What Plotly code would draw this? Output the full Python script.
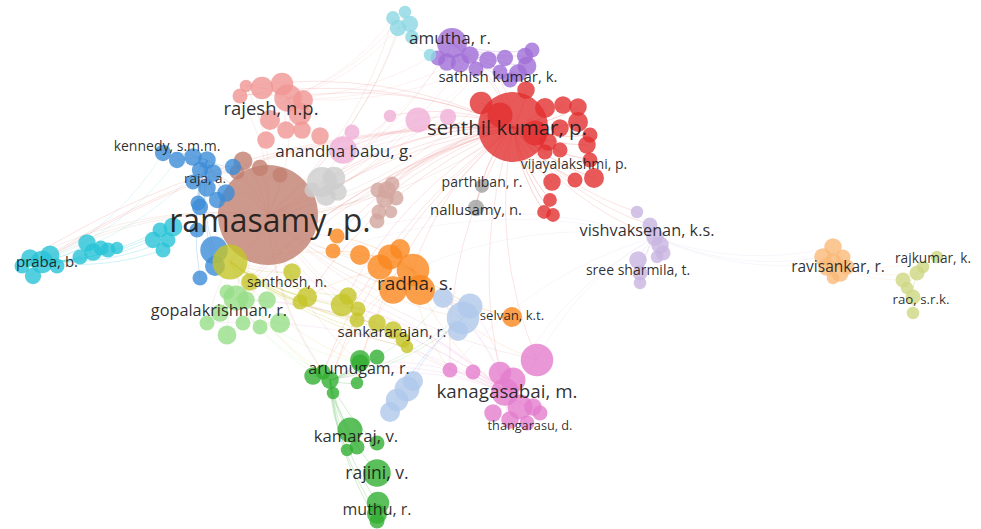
import plotly.graph_objects as go

# ---------------- DATA (positions in map units, size = node weight) ----------------
# Each cluster: list of (x, y, size); first entry is the cluster's main author
ramasamy_nodes = [(268, 215, 100), (243, 161, 15), (260, 168, 13), (280, 175, 12), (237, 172, 12)]
senthil_nodes = [(513, 127, 56), (481, 103, 18), (526, 90, 14), (545, 108, 16), (563, 105, 14),
                 (578, 107, 14), (578, 122, 16), (560, 128, 14), (587, 145, 14), (548, 142, 14),
                 (545, 152, 12), (590, 160, 12), (594, 178, 16), (575, 180, 12), (552, 182, 14),
                 (550, 200, 11), (544, 212, 11), (553, 215, 11), (500, 115, 20), (535, 133, 20),
                 (560, 150, 12), (590, 135, 12)]
amutha_nodes = [(452, 43, 24), (470, 55, 14), (488, 60, 14), (505, 58, 13), (525, 56, 13),
                (532, 50, 12), (527, 66, 15), (518, 73, 14), (460, 63, 15), (447, 62, 14),
                (476, 69, 12), (500, 72, 12), (510, 80, 12), (438, 58, 12)]
amutha_cyan_nodes = [(398, 28, 13), (393, 18, 11), (405, 12, 10), (410, 24, 13), (412, 37, 11),
                     (430, 55, 10)]
rajesh_nodes = [(288, 98, 22), (240, 96, 12), (246, 86, 10), (262, 88, 18), (282, 84, 18),
                (300, 114, 18), (270, 120, 16), (286, 130, 14), (302, 130, 14), (320, 136, 14),
                (266, 140, 14), (303, 100, 16)]
anandha_nodes = [(343, 150, 22), (390, 116, 10), (418, 120, 20), (448, 117, 13), (352, 132, 12)]
lightgrey_nodes = [(322, 182, 24), (334, 178, 18), (326, 196, 16), (338, 192, 14), (312, 190, 12)]
grey_nodes = [(482, 186, 11), (476, 208, 13)]
lightbrown_nodes = [(387, 190, 14), (378, 190, 12), (392, 184, 12), (385, 199, 14), (396, 198, 12),
                    (379, 212, 12), (391, 212, 10), (377, 221, 12)]
blue_nodes = [(207, 160, 14), (163, 153, 13), (177, 160, 13), (193, 157, 14), (213, 173, 14),
              (200, 170, 13), (193, 182, 12), (207, 188, 14), (226, 193, 14), (200, 207, 13),
              (217, 200, 13), (233, 167, 13), (214, 250, 22), (200, 278, 12), (197, 230, 12),
              (215, 266, 16), (198, 203, 12)]
cyan_nodes = [(42, 262, 18), (30, 258, 14), (50, 255, 15), (33, 276, 13), (57, 266, 12),
              (87, 243, 14), (93, 252, 14), (101, 248, 12), (108, 250, 12), (117, 248, 10),
              (80, 257, 12), (153, 240, 13), (163, 250, 12), (160, 230, 12), (173, 227, 15),
              (168, 240, 12), (22, 266, 12)]
yellow_nodes = [(230, 262, 28), (307, 297, 16), (342, 305, 18), (348, 296, 14), (358, 309, 12),
                (357, 320, 12), (377, 323, 14), (393, 330, 14), (403, 340, 12), (407, 347, 10),
                (292, 272, 14), (300, 302, 12), (250, 282, 14)]
lightgreen_nodes = [(236, 298, 20), (246, 300, 14), (207, 323, 12), (227, 335, 15), (243, 323, 12),
                    (260, 327, 12), (280, 323, 16), (267, 300, 14), (220, 313, 14), (227, 292, 12)]
orange_nodes = [(413, 270, 26), (337, 236, 12), (333, 251, 12), (360, 255, 16), (390, 257, 20),
                (400, 249, 16), (393, 290, 22), (420, 290, 24), (380, 267, 20), (512, 317, 16)]
lightblue_nodes = [(463, 318, 26), (470, 306, 20), (443, 298, 16), (458, 331, 16), (407, 389, 20),
                   (397, 400, 18), (390, 412, 16), (413, 381, 16)]
green_nodes = [(330, 380, 14), (323, 372, 12), (360, 363, 14), (377, 357, 12), (333, 393, 10),
               (357, 383, 10), (360, 360, 16), (313, 376, 14), (350, 430, 20), (357, 447, 12),
               (347, 450, 10), (377, 443, 12), (377, 473, 22), (378, 503, 18), (377, 514, 16),
               (377, 521, 12)]
pink_nodes = [(505, 392, 22), (537, 360, 26), (450, 370, 12), (500, 373, 18), (513, 380, 20),
              (520, 407, 20), (533, 407, 14), (540, 413, 12), (493, 413, 14), (527, 423, 12),
              (510, 420, 14), (473, 372, 12)]
lightpurple_nodes = [(655, 237, 14), (637, 212, 10), (650, 225, 12), (660, 245, 14), (663, 253, 12),
                     (657, 257, 10), (638, 260, 14), (640, 273, 12), (640, 283, 10)]
lightorange_nodes = [(833, 262, 14), (833, 247, 14), (823, 257, 14), (843, 257, 12), (827, 267, 14),
                     (840, 273, 14), (833, 278, 10), (847, 267, 12)]
olive_nodes = [(917, 273, 12), (937, 257, 10), (903, 280, 12), (907, 288, 10), (913, 297, 12),
               (913, 313, 10), (923, 267, 10)]

# cluster name -> colour
cluster_colors = {
    "ramasamy": "rgb(194,128,112)", "senthil": "rgb(226,48,48)", "amutha": "rgb(160,110,215)",
    "amutha_cyan": "rgb(140,215,228)", "rajesh": "rgb(240,150,148)", "anandha": "rgb(240,175,215)",
    "lightgrey": "rgb(205,205,205)", "grey": "rgb(160,160,160)", "lightbrown": "rgb(210,165,158)",
    "blue": "rgb(60,140,215)", "cyan": "rgb(40,195,215)", "yellow": "rgb(196,196,40)",
    "lightgreen": "rgb(150,222,135)", "orange": "rgb(250,135,30)", "lightblue": "rgb(175,200,235)",
    "green": "rgb(50,175,50)", "pink": "rgb(228,125,205)", "lightpurple": "rgb(200,180,225)",
    "lightorange": "rgb(250,185,120)", "olive": "rgb(205,215,130)",
}
clusters = {
    "ramasamy": ramasamy_nodes, "senthil": senthil_nodes, "amutha": amutha_nodes,
    "amutha_cyan": amutha_cyan_nodes, "rajesh": rajesh_nodes, "anandha": anandha_nodes,
    "lightgrey": lightgrey_nodes, "grey": grey_nodes, "lightbrown": lightbrown_nodes,
    "blue": blue_nodes, "cyan": cyan_nodes, "yellow": yellow_nodes, "lightgreen": lightgreen_nodes,
    "orange": orange_nodes, "lightblue": lightblue_nodes, "green": green_nodes, "pink": pink_nodes,
    "lightpurple": lightpurple_nodes, "lightorange": lightorange_nodes, "olive": olive_nodes,
}

# links between clusters' main authors (source cluster first)
hub_links = [
    ("ramasamy", "rajesh"), ("ramasamy", "anandha"), ("ramasamy", "blue"), ("ramasamy", "cyan"),
    ("ramasamy", "lightgreen"), ("ramasamy", "yellow"), ("ramasamy", "orange"), ("ramasamy", "senthil"),
    ("ramasamy", "green"), ("ramasamy", "pink"), ("ramasamy", "lightgrey"), ("ramasamy", "lightbrown"),
    ("ramasamy", "amutha"), ("ramasamy", "amutha_cyan"), ("ramasamy", "lightblue"),
    ("senthil", "orange"), ("senthil", "pink"), ("senthil", "lightpurple"), ("senthil", "amutha"),
    ("senthil", "rajesh"), ("senthil", "lightgreen"), ("senthil", "yellow"), ("senthil", "green"),
    ("senthil", "grey"), ("senthil", "lightgrey"), ("senthil", "anandha"), ("senthil", "lightbrown"),
    ("rajesh", "amutha"), ("rajesh", "amutha_cyan"), ("anandha", "amutha"), ("lightpurple", "lightorange"),
    ("lightpurple", "pink"), ("lightorange", "olive"), ("orange", "pink"), ("orange", "lightblue"),
    ("orange", "yellow"), ("green", "lightblue"), ("pink", "lightblue"), ("pink", "yellow"),
    ("pink", "green"), ("cyan", "blue"), ("lightgreen", "green"), ("yellow", "green"),
    ("lightpurple", "orange"), ("senthil", "cyan"), ("orange", "green"), ("pink", "lightgreen"),
]

# labels
label_text = ["amutha, r.", "sathish kumar, k.", "rajesh, n.p.", "senthil kumar, p.", "kennedy, s.m.m.",
              "anandha babu, g.", "vijayalakshmi, p.", "raja, a.", "parthiban, r.", "nallusamy, n.",
              "ramasamy, p.", "vishvaksenan, k.s.", "praba, b.", "santhosh, n.", "radha, s.",
              "sree sharmila, t.", "ravisankar, r.", "rajkumar, k.", "rao, s.r.k.", "gopalakrishnan, r.",
              "selvan, k.t.", "sankararajan, r.", "arumugam, r.", "kanagasabai, m.", "thangarasu, d.",
              "kamaraj, v.", "rajini, v.", "muthu, r."]
label_x = [450, 498, 271, 507, 167, 344, 574, 205, 482, 476, 270, 647, 47, 287, 415,
           638, 838, 933, 921, 219, 512, 392, 359, 507, 530, 356, 377, 377]
label_y = [40, 78, 110, 130, 147, 153, 165, 180, 183, 211, 224, 232, 263, 283, 285,
           271, 268, 260, 301, 312, 317, 333, 370, 393, 427, 438, 475, 511]
label_size = [17, 15, 18.5, 20.5, 14, 17, 14, 13.5, 14, 15, 32, 16.3, 15, 14, 19,
              14, 15.5, 13.7, 13.3, 16.3, 13.2, 15, 16, 18.8, 12.7, 16.7, 17.5, 16]

# ---------------- FIGURE ----------------
def rgba(c, a):
    return c.replace("rgb(", "rgba(").replace(")", f",{a})")

def curve(p, q, bend=0.18):
    x0, y0 = p[0], p[1]
    x1, y1 = q[0], q[1]
    mx, my = (x0 + x1) / 2, (y0 + y1) / 2
    dx, dy = x1 - x0, y1 - y0
    cx, cy = mx - dy * bend, my + dx * bend
    return f"M {x0},{y0} Q {cx},{cy} {x1},{y1}"

shapes = []
for name, nodes in clusters.items():
    hub = nodes[0]
    for n in nodes[1:]:
        shapes.append(dict(type="path", path=curve(hub, n, 0.12), layer="below",
                           line=dict(color=rgba(cluster_colors[name], 0.22), width=1)))
for a, b in hub_links:
    src = clusters[a][0]
    for n in clusters[b][:3]:
        shapes.append(dict(type="path", path=curve(src, n, 0.15), layer="below",
                           line=dict(color=rgba(cluster_colors[a], 0.13), width=1)))

SIZE_SCALE = 1.25
fig = go.Figure()
for name, nodes in clusters.items():
    fig.add_trace(go.Scatter(
        x=[n[0] for n in nodes], y=[n[1] for n in nodes], mode="markers",
        marker=dict(size=[n[2] * (1.0 if (name == "ramasamy" and i == 0) else SIZE_SCALE)
                          for i, n in enumerate(nodes)],
                    color=cluster_colors[name], opacity=0.8, line=dict(width=0)),
        hoverinfo="skip", showlegend=False))

fig.add_trace(go.Scatter(
    x=label_x, y=label_y, mode="text", text=label_text,
    textfont=dict(family="Open Sans", size=label_size, color="rgba(25,25,25,0.92)"),
    hoverinfo="skip", showlegend=False))

fig.update_layout(
    width=981, height=529, margin=dict(l=0, r=0, t=0, b=0),
    paper_bgcolor="white", plot_bgcolor="white", shapes=shapes,
    xaxis=dict(range=[0, 981], visible=False, fixedrange=True),
    yaxis=dict(range=[529, 0], visible=False, fixedrange=True),
)

fig.write_html("out.html", config={"displayModeBar": False},
               post_script="document.body.style.margin='0';")
